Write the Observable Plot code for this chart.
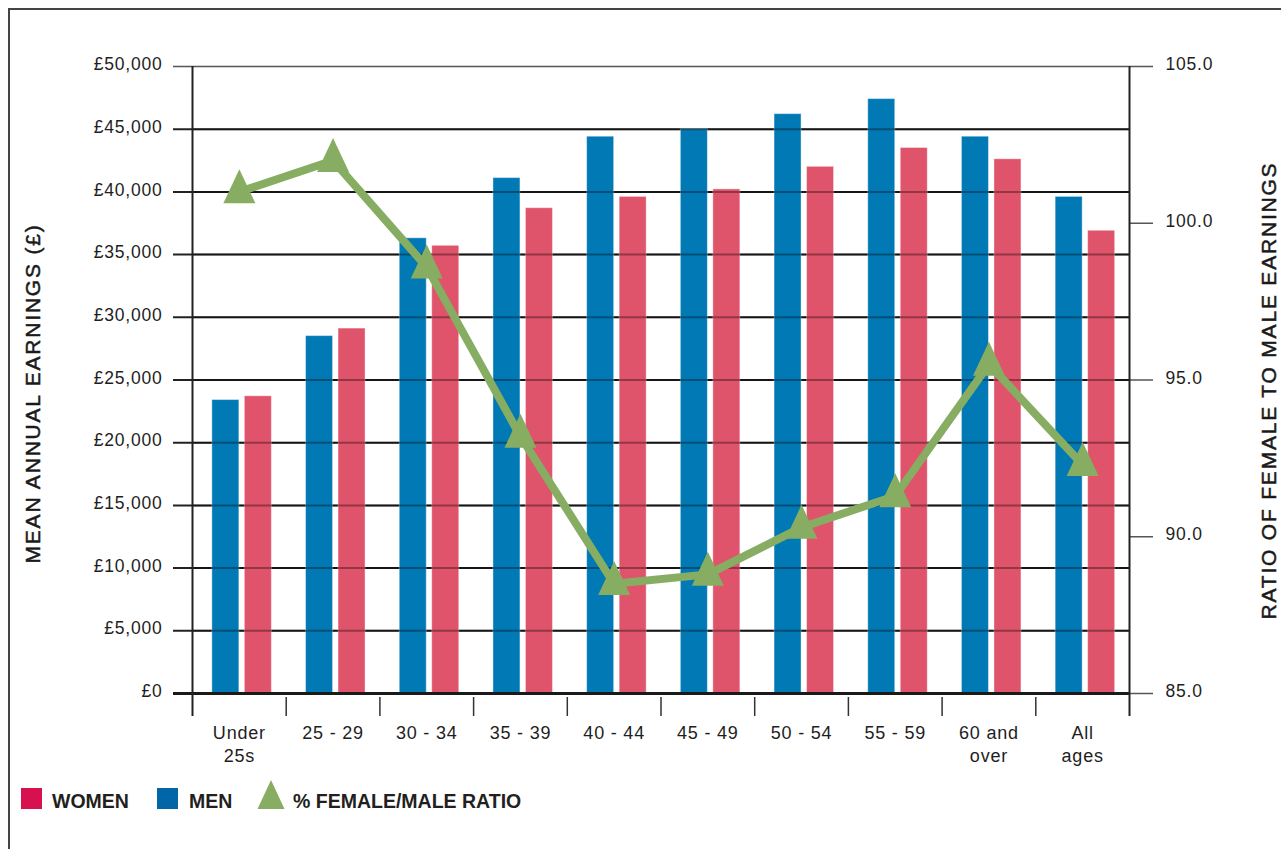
<!DOCTYPE html>
<html>
<head>
<meta charset="utf-8">
<script src="https://cdn.jsdelivr.net/npm/d3@7"></script>
<script src="https://cdn.jsdelivr.net/npm/@observablehq/plot@0.6"></script>
<style>
  html, body { margin: 0; padding: 0; background: #fff; }
  #wrap { position: relative; width: 1281px; height: 849px; overflow: hidden; background: #fff; }
  #border { position: absolute; left: 8px; top: 8px; width: 1400px; height: 1000px; pointer-events: none;
            border-left: 2px solid #444; border-top: 2px solid #444; }
  #chart { position: absolute; left: 0; top: 0; }
  #chart svg [aria-label="x-axis tick label"] text,
  #chart svg [aria-label="y-axis tick label"] text { letter-spacing: 0.8px; }
  #chart svg g[aria-label="text"] text,
  #chart svg g[aria-description="axis-titles"] text { letter-spacing: 1.8px; }
  .lg { position: absolute; font-family: "Liberation Sans", Arial, sans-serif; font-weight: bold;
        font-size: 19.5px; line-height: 1; color: #231f20; white-space: nowrap; }
  .sw { position: absolute; width: 21px; height: 21px; }
</style>
</head>
<body>
<div id="wrap">
  <div id="chart"></div>
  <div id="border"></div>
  <div class="sw" style="left:21px; top:788px; background:#d7104f;"></div>
  <div class="lg" style="left:52px; top:791.5px;">WOMEN</div>
  <div class="sw" style="left:157px; top:788px; background:#0066a8;"></div>
  <div class="lg" style="left:189px; top:791.5px;">MEN</div>
  <svg style="position:absolute; left:257px; top:780px;" width="28" height="30">
    <polygon points="14,0 27.5,29 0.5,29" fill="#87ad62"></polygon>
  </svg>
  <div class="lg" style="left:293px; top:791.5px;">% FEMALE/MALE RATIO</div>
</div>
<script>
// ---- data ----
const categories = ["Under\n25s", "25 - 29", "30 - 34", "35 - 39", "40 - 44", "45 - 49", "50 - 54", "55 - 59", "60 and\nover", "All\nages"];
const men   = [23400, 28500, 36300, 41100, 44400, 45000, 46200, 47400, 44400, 39600];
const women = [23700, 29100, 35700, 38700, 39600, 40200, 42000, 43500, 42600, 36900];
const ratio = [101.0, 102.0, 98.6, 93.2, 88.5, 88.8, 90.3, 91.3, 95.5, 92.3];
const earningsTicks = [0, 5000, 10000, 15000, 20000, 25000, 30000, 35000, 40000, 45000, 50000];
const ratioTicks = [85, 90, 95, 100, 105];
const yTitle = "MEAN ANNUAL EARNINGS (£)";
const y2Title = "RATIO OF FEMALE TO MALE EARNINGS";

const rows = categories.map((c, i) => ({cat: c, men: men[i], women: women[i], ratio: ratio[i]}));

// layout
const W = 1281, H = 770, ML = 192, MR = 152, MT = 66, MB = 77;
const frameW = W - ML - MR, frameH = H - MT - MB;
const bw = frameW / categories.length;

// secondary axis mapping (ratio -> earnings units)
const toY = d3.scaleLinear([85, 105], [0, 50000]);

// custom tall triangle symbol centred on centroid
const triangle = {
  draw(context, size) {
    const r = Math.sqrt(size / Math.PI);
    const h = 2.125 * r;
    context.moveTo(0, -2 * h / 3);
    context.lineTo(r, h / 3);
    context.lineTo(-r, h / 3);
    context.closePath();
  }
};

const inner = earningsTicks.filter(v => v > 0 && v < 50000);

const chart = Plot.plot({
  width: W, height: H,
  marginLeft: ML, marginRight: MR, marginTop: MT, marginBottom: MB,
  style: {fontFamily: "'Liberation Sans', Arial, sans-serif", fontSize: "17.5px", color: "#1e1e1e", background: "transparent", overflow: "visible"},
  x: {type: "band", domain: categories, padding: 0, round: false, axis: null},
  y: {domain: [0, 50000], axis: null},
  marks: [
    // gridlines under the bars
    Plot.ruleY(inner, {y: d => d, stroke: "#222", strokeWidth: 2, insetLeft: -19}),
    // bars
    Plot.barY(rows, {x: "cat", y: "men", fill: "#0079b5", insetLeft: bw / 2 - 27, insetRight: bw / 2, stroke: "#fff", strokeOpacity: 0.4, strokeWidth: 1}),
    Plot.barY(rows, {x: "cat", y: "women", fill: "#df536b", insetLeft: bw / 2 + 5.5, insetRight: bw / 2 - 32.5, stroke: "#fff", strokeOpacity: 0.4, strokeWidth: 1}),
    // gridlines showing through the bars
    Plot.ruleY(inner, {y: d => d, stroke: "#000", strokeOpacity: 0.35, strokeWidth: 2}),
    // top line
    Plot.ruleY([50000], {y: d => d, stroke: "#555", strokeWidth: 1.5, insetLeft: -19, insetRight: -24}),
    // right axis ticks
    Plot.ruleY(ratioTicks.filter(v => v < 105), {y: d => toY(d), stroke: "#555", strokeWidth: 1.5, insetLeft: frameW, insetRight: -24}),
    // baseline
    Plot.ruleY([0], {y: d => d, stroke: "#1a1a1a", strokeWidth: 3, insetLeft: -19}),
    // vertical axis lines
    Plot.ruleX([categories[0]], {x: d => d, dx: -bw / 2, stroke: "#222", strokeWidth: 2, insetBottom: -23}),
    Plot.ruleX([categories[categories.length - 1]], {x: d => d, dx: bw / 2, stroke: "#222", strokeWidth: 2, insetBottom: -23}),
    // category separators
    Plot.ruleX(categories.slice(1), {x: d => d, dx: -bw / 2, dy: 23, insetTop: frameH - 19, stroke: "#333", strokeWidth: 1.5}),
    // axes
    Plot.axisY({ticks: earningsTicks, tickSize: 0, tickPadding: 30, tickFormat: d => "£" + d3.format(",")(d), fontSize: 17.5, dy: -2, label: null}),
    Plot.axisY({anchor: "right", ticks: ratioTicks.map(v => toY(v)), tickFormat: d => toY.invert(d).toFixed(1), tickSize: 0, tickPadding: 36, fontSize: 17.5, dy: -2, label: null}),
    Plot.axisX({tickSize: 0, tickPadding: 28.7, fontSize: 18, lineHeight: 1.28, label: null}),
    // ratio line
    Plot.line(rows, {x: "cat", y: d => toY(d.ratio), stroke: "#87ad62", strokeWidth: 8, strokeLinejoin: "round"}),
    Plot.dot(rows, {x: "cat", y: d => toY(d.ratio), symbol: triangle, r: 16, fill: "#87ad62", stroke: "none"}),
    // axis titles
    Plot.text([yTitle], {text: d => d, frameAnchor: "left", rotate: -90, dx: -159.5, dy: 13.5, fontSize: 21, fill: "#1a1a1a", stroke: "#1a1a1a", strokeWidth: 0.5, textAnchor: "middle", lineAnchor: "middle", ariaDescription: "axis-titles"}),
    Plot.text([y2Title], {text: d => d, frameAnchor: "right", rotate: -90, dx: 140, dy: 10.5, fontSize: 21, fill: "#1a1a1a", stroke: "#1a1a1a", strokeWidth: 0.5, textAnchor: "middle", lineAnchor: "middle", ariaDescription: "axis-titles"})
  ]
});
document.getElementById("chart").appendChild(chart);
</script>
</body>
</html>
